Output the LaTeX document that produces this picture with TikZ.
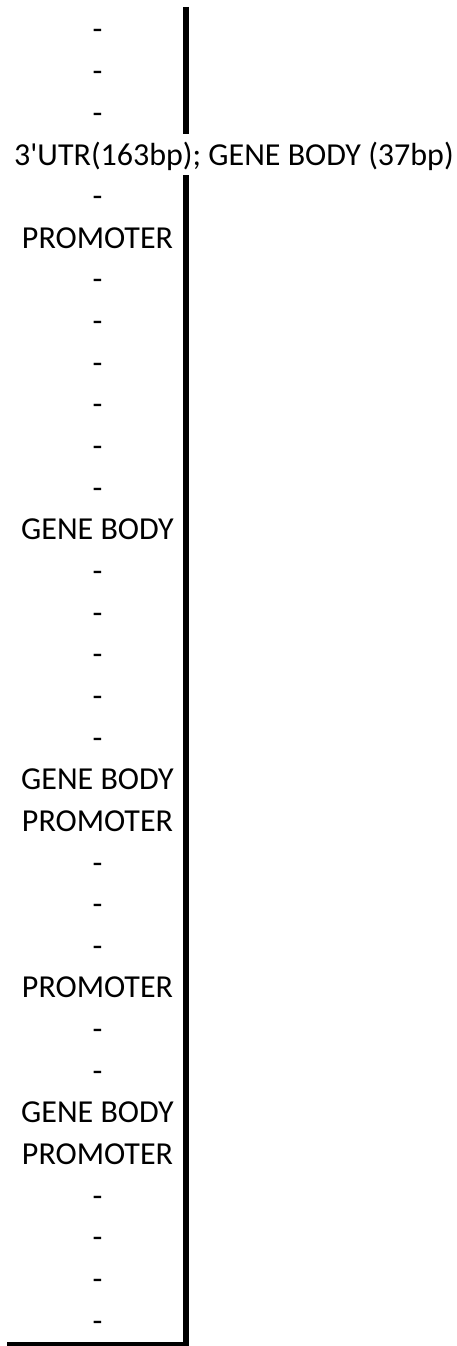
\documentclass[tikz,border=0pt]{standalone}
\usepackage{fontspec}
\setmainfont{Carlito}
\begin{document}
\begin{tikzpicture}[x=1pt,y=-1pt,
  cell/.style={anchor=base,inner sep=0pt,font=\fontsize{32}{34}\selectfont},
  border/.style={line width=5.5pt,line cap=butt}]
\useasboundingbox (0,0) rectangle (457,1346);
\def\rh{41.65}
\def\skipmark{X}
\foreach \t [count=\i from 0] in {-,-,-,X,-,PROMOTER,-,-,-,-,-,-,GENE BODY,-,-,-,-,-,GENE BODY,PROMOTER,-,-,-,PROMOTER,-,-,GENE BODY,PROMOTER,-,-,-,-}{
  \ifx\t\skipmark\relax\else
  \node[cell] (r\i) at (97.5,{40+\i*\rh}) {\t};
  \fi
}
\node[cell,anchor=base west] (utr) at (14,165) {3\textquotesingle UTR(163bp); GENE BODY (37bp)};
\coordinate (top) at (185.75,7);
\coordinate (gapA) at (185.75,134);
\coordinate (gapB) at (185.75,175);
\coordinate (bot) at (185.75,1346);
\coordinate (bl) at (7,1344);
\coordinate (br) at (188.5,1344);
\draw[border] (top) -- (gapA);
\draw[border] (gapB) -- (bot);
\draw[line width=4pt] (bl) -- (br);
\end{tikzpicture}
\end{document}
